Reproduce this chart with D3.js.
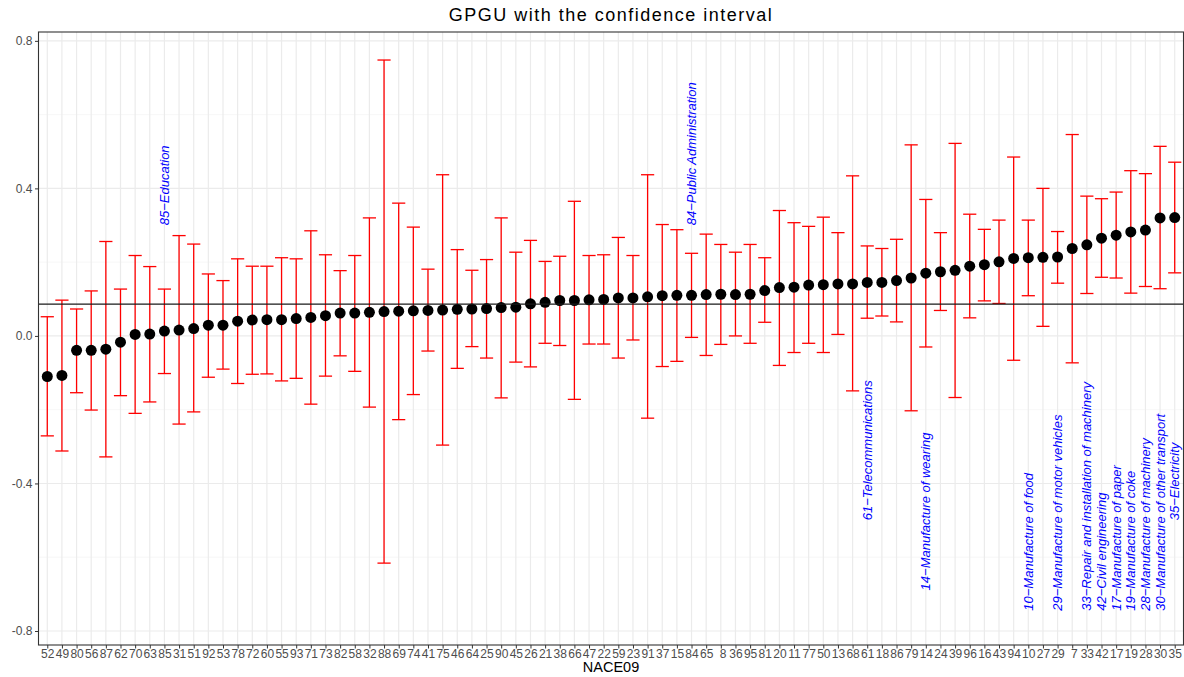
<!DOCTYPE html>
<html><head><meta charset="utf-8">
<script src="https://cdn.jsdelivr.net/npm/d3@7"></script>
<style>body{margin:0;background:#fff} text{font-family:"Liberation Sans",Arial,Helvetica,sans-serif}</style>
</head><body><svg id="c" width="1184" height="677"></svg>
<script>
const categories = ["52","49","80","56","87","62","70","63","85","31","51","92","53","78","72","60","55","93","71","73","82","58","32","88","69","74","41","75","46","64","25","90","45","26","21","38","66","47","22","59","23","91","37","15","84","65"," 8","36","95","81","20","11","77","50","13","68","61","18","86","79","14","24","39","96","16","43","94","10","27","29"," 7","33","42","17","19","28","30","35"];
const gpguMean = [-0.110,-0.107,-0.039,-0.039,-0.036,-0.017,0.004,0.005,0.013,0.016,0.020,0.029,0.029,0.040,0.043,0.044,0.044,0.047,0.050,0.055,0.062,0.062,0.064,0.066,0.067,0.068,0.069,0.070,0.072,0.073,0.074,0.077,0.078,0.087,0.091,0.096,0.096,0.098,0.099,0.103,0.103,0.106,0.109,0.110,0.110,0.112,0.113,0.112,0.113,0.123,0.131,0.132,0.138,0.139,0.141,0.141,0.145,0.145,0.150,0.157,0.170,0.174,0.178,0.189,0.193,0.201,0.210,0.212,0.213,0.214,0.237,0.247,0.265,0.273,0.282,0.287,0.320,0.321];
const ciLower = [-0.271,-0.312,-0.154,-0.201,-0.328,-0.162,-0.210,-0.179,-0.102,-0.239,-0.206,-0.112,-0.090,-0.129,-0.104,-0.103,-0.122,-0.115,-0.185,-0.109,-0.054,-0.096,-0.193,-0.616,-0.227,-0.159,-0.041,-0.296,-0.088,-0.029,-0.060,-0.168,-0.071,-0.084,-0.020,-0.026,-0.172,-0.022,-0.022,-0.060,-0.011,-0.223,-0.083,-0.069,-0.004,-0.053,-0.023,0.000,-0.020,0.037,-0.080,-0.045,-0.020,-0.045,0.004,-0.149,0.048,0.054,0.038,-0.203,-0.030,0.069,-0.167,0.049,0.095,0.088,-0.066,0.109,0.026,0.143,-0.073,0.115,0.159,0.157,0.116,0.134,0.128,0.171];
const ciUpper = [0.052,0.097,0.073,0.122,0.256,0.127,0.218,0.188,0.127,0.272,0.249,0.168,0.150,0.209,0.189,0.189,0.212,0.209,0.285,0.220,0.177,0.218,0.320,0.748,0.360,0.295,0.181,0.437,0.234,0.178,0.207,0.320,0.227,0.259,0.202,0.216,0.365,0.218,0.220,0.267,0.218,0.437,0.302,0.288,0.224,0.276,0.248,0.227,0.248,0.212,0.340,0.307,0.297,0.322,0.280,0.434,0.244,0.237,0.262,0.518,0.370,0.280,0.522,0.330,0.289,0.314,0.485,0.314,0.400,0.283,0.546,0.379,0.372,0.390,0.448,0.440,0.514,0.471];
const overallLine = 0.086;
const yTickValues = [-0.8,-0.4,0.0,0.4,0.8];
const yTickLabels = ["-0.8","-0.4","0.0","0.4","0.8"];
const yMinorValues = [-0.6,-0.2,0.2,0.6];
const noteCategories = ["85","84","61","14","10","29","33","42","17","19","28","30","35"];
const noteTexts = ["85−Education","84−Public Administration","61−Telecommunications","14−Manufacture of wearing","10−Manufacture of food","29−Manufacture of motor vehicles","33−Repair and installation of machinery","42−Civil engineering","17−Manufacture of paper","19−Manufacture of coke","28−Manufacture of machinery","30−Manufacture of other transport","35−Electricity"];
const noteStartY = [0.30,0.30,-0.50,-0.69,-0.745,-0.745,-0.745,-0.745,-0.745,-0.745,-0.745,-0.745,-0.50];
const chartTitle = "GPGU with the confidence interval";
const xTitle = "NACE09";

const svg = d3.select("#c");
const L = 38.5, R = 1183.5, T = 32, B = 645;
const x = d3.scalePoint().domain(categories).range([L, R]).padding(0.6);
const y = d3.scaleLinear().domain([-0.838, 0.824]).range([B, T]);
const step = x.step();

svg.append("rect").attr("x",0).attr("y",0).attr("width",1184).attr("height",677).attr("fill","#fff");

const grid = svg.append("g");
grid.selectAll("line.ym").data(yMinorValues).join("line")
  .attr("x1",L).attr("x2",R).attr("y1",d=>y(d)).attr("y2",d=>y(d))
  .attr("stroke","#F2F2F2").attr("stroke-width",0.6);
grid.selectAll("line.yM").data(yTickValues).join("line")
  .attr("x1",L).attr("x2",R).attr("y1",d=>y(d)).attr("y2",d=>y(d))
  .attr("stroke","#EBEBEB").attr("stroke-width",1.1);
grid.selectAll("line.xg").data(categories).join("line")
  .attr("x1",d=>x(d)).attr("x2",d=>x(d)).attr("y1",T).attr("y2",B)
  .attr("stroke","#EBEBEB").attr("stroke-width",1.2);

// error bars
const half = step*0.45;
const eb = svg.append("g").attr("stroke","#FF0000").attr("stroke-width",1.3).attr("fill","none");
categories.forEach((c,i)=>{
  const cx = x(c);
  eb.append("line").attr("x1",cx).attr("x2",cx).attr("y1",y(ciLower[i])).attr("y2",y(ciUpper[i]));
  eb.append("line").attr("x1",cx-half).attr("x2",cx+half).attr("y1",y(ciLower[i])).attr("y2",y(ciLower[i]));
  eb.append("line").attr("x1",cx-half).attr("x2",cx+half).attr("y1",y(ciUpper[i])).attr("y2",y(ciUpper[i]));
});

// points
svg.append("g").selectAll("circle").data(categories).join("circle")
  .attr("cx",d=>x(d)).attr("cy",(d,i)=>y(gpguMean[i])).attr("r",5.5).attr("fill","#000");

// hline
svg.append("line").attr("x1",L).attr("x2",R).attr("y1",y(overallLine)).attr("y2",y(overallLine))
  .attr("stroke","#1a1a1a").attr("stroke-width",1.2);

// notes
svg.append("g").selectAll("text").data(noteTexts).join("text")
  .attr("transform",(d,i)=>`translate(${x(noteCategories[i])},${y(noteStartY[i])}) rotate(-90)`)
  .attr("dy","0.35em").attr("text-anchor","start")
  .attr("font-size",13).attr("font-style","italic").attr("fill","#0000FF").text(d=>d);

// panel border
svg.append("rect").attr("x",L).attr("y",T).attr("width",R-L).attr("height",B-T)
  .attr("fill","none").attr("stroke","#333").attr("stroke-width",1.1);

// axes
const xAxis = d3.axisBottom(x).tickSize(3.5).tickPadding(1);
const gx = svg.append("g").attr("transform",`translate(0,${B})`).call(xAxis);
gx.select(".domain").remove();
gx.selectAll("line").attr("stroke","#333");
gx.selectAll("text").attr("fill","#4D4D4D").attr("font-size",12).style("white-space","pre")
  .attr("font-family","Liberation Sans, Arial, sans-serif");

const yAxis = d3.axisLeft(y).tickValues(yTickValues).tickFormat((d,i)=>yTickLabels[i]).tickSize(3.5).tickPadding(2.5);
const gy = svg.append("g").attr("transform",`translate(${L},0)`).call(yAxis);
gy.select(".domain").remove();
gy.selectAll("line").attr("stroke","#333");
gy.selectAll("text").attr("fill","#4D4D4D").attr("font-size",12)
  .attr("font-family","Liberation Sans, Arial, sans-serif");

svg.append("text").attr("x",(L+R)/2).attr("y",21).attr("text-anchor","middle")
  .attr("font-size",18).attr("letter-spacing",1.5).attr("fill","#000").text(chartTitle);
svg.append("text").attr("x",(L+R)/2).attr("y",672).attr("text-anchor","middle")
  .attr("font-size",14.5).attr("fill","#000").text(xTitle);
</script></body></html>
